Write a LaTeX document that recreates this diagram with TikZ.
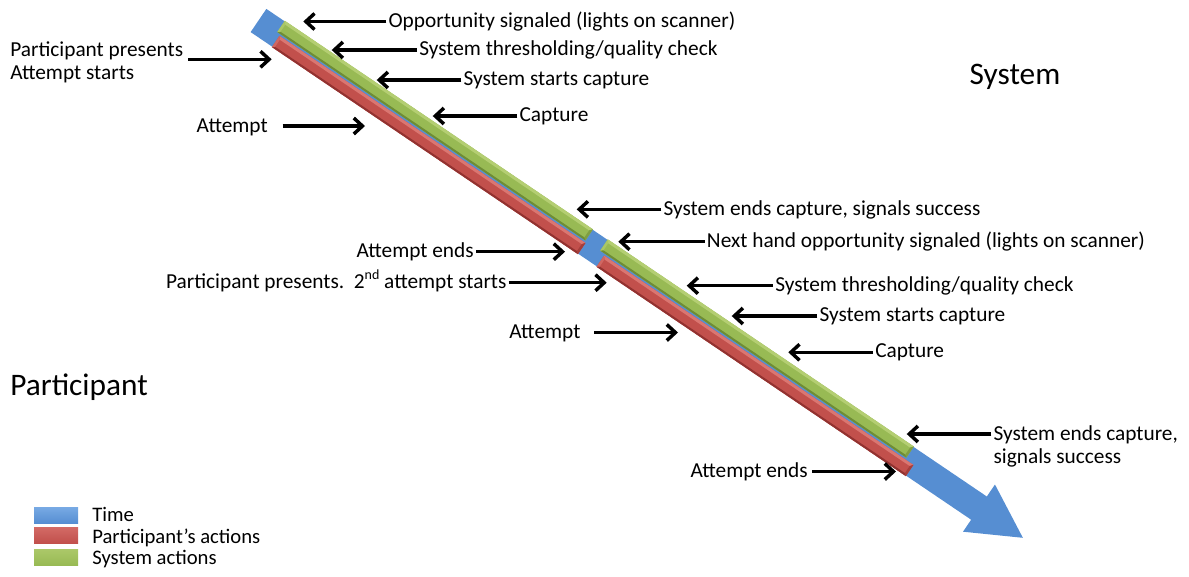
\documentclass[tikz,border=0pt]{standalone}
\usepackage{fontspec}
\setmainfont{Carlito}
\usetikzlibrary{arrows.meta}
\definecolor{tblue}{RGB}{86,142,210}
\definecolor{tbluel}{RGB}{120,170,228}
\definecolor{gbase}{RGB}{152,186,84}
\definecolor{glight}{RGB}{180,206,114}
\definecolor{gdark}{RGB}{110,140,54}
\definecolor{rbase}{RGB}{194,80,76}
\definecolor{rlight}{RGB}{218,118,113}
\definecolor{rdark}{RGB}{146,50,48}
\newcommand\tlBar[7]{%
  \fill[#5] (#1,#3) rectangle (#2,#4);
  \fill[#6] (#1,#3) -- (#2,#3) -- (#2-2.5,#3+3) -- (#1+2.5,#3+3) -- cycle;
  \fill[#7] (#1+2,#4-2) -- (#2-2,#4-2) -- (#2,#4) -- (#1,#4) -- cycle;
  \fill[#7!60!#5] (#2,#3) -- (#2,#4) -- (#2-2.5,#4-2) -- (#2-2.5,#3+3) -- cycle;
  \fill[#6!60!#5] (#1,#3) -- (#1+2.5,#3+3) -- (#1+2.5,#4-2) -- (#1,#4) -- cycle;
}
\begin{document}
\begin{tikzpicture}[x=0.75pt,y=-0.75pt,
  lbl/.style={inner sep=0pt, font=\fontsize{16}{19}\selectfont},
  ttl/.style={inner sep=0pt, font=\fontsize{23.5}{28}\selectfont},
  lgd/.style={inner sep=0pt, font=\fontsize{15.5}{18}\selectfont, anchor=base west},
  ptr/.style={line width=2.6pt, -{Straight Barb[length=6.5pt,width=12pt]}}]
\useasboundingbox (0,0) rectangle (1189,576);

% timeline
\begin{scope}[shift={(258.5,20.5)}, rotate=-34.09]
  \fill[tblue] (0,-14) -- (870,-14) -- (870,-28.5) -- (923,0) -- (870,28.5) -- (870,14) -- (0,14) -- cycle;
  \tlBar{22}{394}{-14.5}{-1}{gbase}{glight}{gdark}
  \tlBar{26}{395.5}{1}{14.5}{rbase}{rlight}{rdark}
  \tlBar{412}{781.5}{-14.5}{-1}{gbase}{glight}{gdark}
  \tlBar{418}{791.5}{1}{14.5}{rbase}{rlight}{rdark}
\end{scope}

% titles
\node[ttl, anchor=base] (sys) at (1015,84) {System};
\node[ttl, anchor=base west] (par) at (10,395) {Participant};

% right-hand labels (system)
\node[lbl, anchor=base west] (r1) at (388.3,27) {Opportunity signaled (lights on scanner)};
\coordinate (r1t) at (303.3,21.5);
\draw[ptr] ([xshift=-1.5]r1.west |- r1t) -- (r1t);

\node[lbl, anchor=base west] (r2) at (419,55.5) {System thresholding/quality check};
\coordinate (r2t) at (331.7,50);
\draw[ptr] ([xshift=-1.5]r2.west |- r2t) -- (r2t);

\node[lbl, anchor=base west] (r3) at (463.3,85.5) {System starts capture};
\coordinate (r3t) at (376.7,80);
\draw[ptr] ([xshift=-1.5]r3.west |- r3t) -- (r3t);

\node[lbl, anchor=base west] (r4) at (519.3,121.5) {Capture};
\coordinate (r4t) at (432.7,116);
\draw[ptr] ([xshift=-1.5]r4.west |- r4t) -- (r4t);

\node[lbl, anchor=base west] (r5) at (663.3,215) {System ends capture, signals success};
\coordinate (r5t) at (576.7,209.3);
\draw[ptr] ([xshift=-1.5]r5.west |- r5t) -- (r5t);

\node[lbl, anchor=base west] (r6) at (706.7,247.2) {Next hand opportunity signaled (lights on scanner)};
\coordinate (r6t) at (618.3,241.7);
\draw[ptr] ([xshift=-1.5]r6.west |- r6t) -- (r6t);

\node[lbl, anchor=base west] (r7) at (775,291.2) {System thresholding/quality check};
\coordinate (r7t) at (686.7,285.7);
\draw[ptr] ([xshift=-1.5]r7.west |- r7t) -- (r7t);

\node[lbl, anchor=base west] (r8) at (819.3,321.5) {System starts capture};
\coordinate (r8t) at (731.7,316);
\draw[ptr] ([xshift=-1.5]r8.west |- r8t) -- (r8t);

\node[lbl, anchor=base west] (r9) at (875,357.8) {Capture};
\coordinate (r9t) at (788.3,352.3);
\draw[ptr] ([xshift=-1.5]r9.west |- r9t) -- (r9t);

\node[lbl, anchor=base west] (r10) at (993.3,440) {System ends capture,};
\node[lbl, anchor=base west] (r10b) at (993.3,463) {signals success};
\coordinate (r10t) at (906.7,434);
\draw[ptr] ([xshift=-1.5]r10.west |- r10t) -- (r10t);

% left-hand labels (participant)
\node[lbl, anchor=base west] (l1) at (10,56) {Participant presents};
\node[lbl, anchor=base west] (l1b) at (10,79) {Attempt starts};
\coordinate (l1t) at (271.7,59.3);
\draw[ptr] ([xshift=3.5]l1.east |- l1t) -- (l1t);

\node[lbl, anchor=base east] (l2) at (268,132) {Attempt};
\coordinate (l2t) at (365,126);
\draw[ptr] ([xshift=11]l2.east |- l2t) -- (l2t);

\node[lbl, anchor=base east] (l3) at (474,257) {Attempt ends};
\coordinate (l3t) at (565,251.7);
\draw[ptr] ([xshift=1.5]l3.east |- l3t) -- (l3t);

\node[lbl, anchor=base east] (l4) at (506.7,288) {Participant presents.\hspace{0.45em}2\raisebox{0.38em}{\fontsize{10.5}{12}\selectfont nd} attempt starts};
\coordinate (l4t) at (606.7,282.7);
\draw[ptr] ([xshift=1.5]l4.east |- l4t) -- (l4t);

\node[lbl, anchor=base east] (l5) at (580.7,338) {Attempt};
\coordinate (l5t) at (678,332.5);
\draw[ptr] ([xshift=10]l5.east |- l5t) -- (l5t);

\node[lbl, anchor=base east] (l6) at (808,477) {Attempt ends};
\coordinate (l6t) at (896,471.5);
\draw[ptr] ([xshift=3]l6.east |- l6t) -- (l6t);

% legend
\fill[top color=tbluel, bottom color=tblue] (34,507) rectangle (78,523);
\fill[top color=rlight!70!rbase, bottom color=rbase] (34,527) rectangle (78,543);
\fill[top color=glight!70!gbase, bottom color=gbase] (34,549) rectangle (78,565);
\node[lgd] (lg1) at (92,521.5) {Time};
\node[lgd] (lg2) at (92,543) {Participant’s actions};
\node[lgd] (lg3) at (92,564) {System actions};
\end{tikzpicture}
\end{document}
